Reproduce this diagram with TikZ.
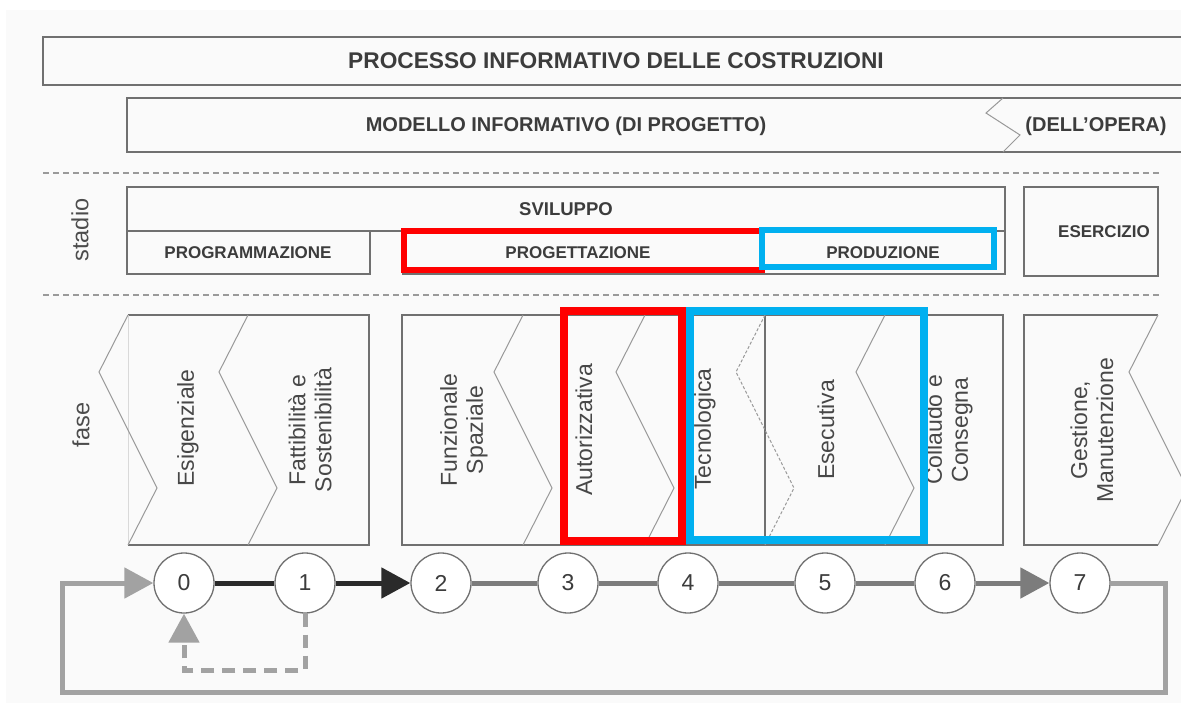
\documentclass[tikz,border=0pt]{standalone}
\usepackage{xcolor}
\usepackage{tikz}
\usepackage{fontspec}
\setmainfont{Liberation Sans}
\usetikzlibrary{arrows.meta}
\definecolor{panel}{HTML}{FAFAFA}
\definecolor{boxline}{HTML}{707070}
\definecolor{ziggray}{HTML}{999999}
\definecolor{sepgray}{HTML}{9A9A9A}
\definecolor{txtgray}{HTML}{3C3C3C}
\definecolor{darkline}{HTML}{2A2A2A}
\definecolor{midline}{HTML}{7C7C7C}
\definecolor{lightline}{HTML}{A2A2A2}
\definecolor{hired}{HTML}{FF0000}
\definecolor{hiblue}{HTML}{00B0F0}

\begin{document}
\begin{tikzpicture}[x=1pt,y=-1pt,every node/.style={align=center,text=txtgray,inner sep=0pt},
    heading/.style={font=\fontsize{17}{20}\selectfont\bfseries},
    side/.style={rotate=90,font=\fontsize{23.5}{26}\selectfont,text=black!70},
    phase/.style={rotate=90,font=\fontsize{23}{26}\selectfont,text=black!72},
    num/.style={circle,draw=boxline,line width=1.3pt,fill=white,minimum size=60pt,font=\fontsize{23}{24}\selectfont},
    boxln/.style={draw=boxline,line width=1.5pt},
    zig/.style={draw=ziggray,line width=1pt},
    sepline/.style={draw=sepgray,line width=1.5pt,dash pattern=on 6pt off 4pt},
    conn/.style={line width=5pt},
    tip/.style={-{Triangle[length=29pt,width=30pt]}}]
    \useasboundingbox (0,0) rectangle (1181,710);
    \fill[panel] (6,10) rectangle (1181,703);
    \draw[boxln] (1190,37) -- (43,37) -- (43,85) -- (1190,85);
    \node[heading,font=\fontsize{22.7}{24}\selectfont\bfseries] (proc) at (616,61) {PROCESSO INFORMATIVO DELLE COSTRUZIONI};
    \draw[boxln] (1190,98) -- (127,98) -- (127,152) -- (1190,152);
    \draw[zig] (1003,98) -- (986,113) -- (1020,135) -- (1003,152);
    \node[heading,font=\fontsize{20}{22}\selectfont\bfseries] (modello) at (566,126) {MODELLO INFORMATIVO (DI PROGETTO)};
    \node[heading,font=\fontsize{20}{22}\selectfont\bfseries] (opera) at (1096,126) {(DELL’OPERA)};
    \draw[sepline] (43,173) -- (1160,173);
    \draw[sepline] (43,295) -- (1160,295);
    \node[side] (stadio) at (80,230) {stadio};
    \draw[boxln] (127,231) -- (127,187) -- (1005,187) -- (1005,274) -- (403,274) -- (403,231);
    \draw[boxln] (127,231) -- (1005,231);
    \draw[boxln] (127,231) rectangle (370,274);
    \draw[boxln] (1024,187) rectangle (1158,276);
    \node[heading,font=\fontsize{18.5}{22}\selectfont\bfseries] (sviluppo) at (566,209) {SVILUPPO};
    \node[heading] (programm) at (248,253) {PROGRAMMAZIONE};
    \node[heading] (progett) at (578,253) {PROGETTAZIONE};
    \node[heading] (produz) at (883,253) {PRODUZIONE};
    \node[heading] (eserc) at (1104,232) {ESERCIZIO};
    \node[side] (fase) at (81,425) {fase};
    \draw[boxln] (128,315) -- (369,315) -- (369,545) -- (128,545);
    \draw[draw=black!15,line width=1pt] (128,315) -- (128,545);
    \draw[boxln] (402,315) rectangle (1003,545);
    \draw[boxln] (1158,315) -- (1024,315) -- (1024,545) -- (1158,545);
    \draw[boxln] (765,315) -- (765,545);
    \draw[zig] (128,315) -- (99,372) -- (157,488) -- (128,545);
    \draw[zig] (248,315) -- (219,372) -- (277,488) -- (248,545);
    \draw[zig] (523,315) -- (494,372) -- (552,488) -- (523,545);
    \draw[zig] (645,315) -- (616,372) -- (674,488) -- (645,545);
    \draw[zig,dash pattern=on 3pt off 2pt] (765,315) -- (736,372) -- (794,488) -- (765,545);
    \draw[zig] (885,315) -- (856,372) -- (914,488) -- (885,545);
    \draw[zig] (1158,315) -- (1129,372) -- (1187,488) -- (1158,545);
    \node[phase] (esig) at (188,428) {Esigenziale};
    \node[phase] (fatt) at (310,430) {Fattibilità e\\Sostenibilità};
    \node[phase] (funz) at (464,430) {Funzionale\\Spaziale};
    \node[phase] (autor) at (584,430) {Autorizzativa};
    \node[phase] (tecno) at (705,429) {Tecnologica};
    \node[phase] (esec) at (826,430) {Esecutiva};
    \node[phase] (collaudo) at (949,430) {Collaudo e\\Consegna};
    \node[phase] (gestione) at (1092,430) {Gestione,\\Manutenzione};
    \draw[draw=hired,line width=6.5pt] (404,231) rectangle (762,270);
    \draw[draw=hiblue,line width=6.5pt] (762,230) rectangle (994,267);
    \draw[draw=hired,line width=7.5pt] (564,311) rectangle (682,541);
    \draw[draw=hiblue,line width=7.5pt] (690,311) rectangle (924,540);
    \node[num] (c0) at (184,583) {0};
    \node[num] (c1) at (305,583) {1};
    \node[num] (c2) at (441,583) {2};
    \node[num] (c3) at (568,583) {3};
    \node[num] (c4) at (688,583) {4};
    \node[num] (c5) at (825,583) {5};
    \node[num] (c6) at (945,583) {6};
    \node[num] (c7) at (1080,583) {7};
    \draw[conn,darkline] (c0) -- (c1);
    \draw[conn,darkline,tip] (c1) -- (c2);
    \draw[conn,midline] (c2) -- (c3);
    \draw[conn,midline] (c3) -- (c4);
    \draw[conn,midline] (c4) -- (c5);
    \draw[conn,midline] (c5) -- (c6);
    \draw[conn,midline,tip] (c6) -- (c7);
    \coordinate (loopr) at (1165,692);
    \coordinate (loopl) at (62,692);
    \draw[conn,lightline,tip] (c7) -| (loopr) -- (loopl) |- (c0);
    \coordinate (backr) at (305,670);
    \coordinate (backl) at (184,670);
    \draw[conn,lightline,dash pattern=on 13pt off 8pt,tip] (c1) -- (backr) -- (backl) -- (c0);
\end{tikzpicture}
\end{document}
